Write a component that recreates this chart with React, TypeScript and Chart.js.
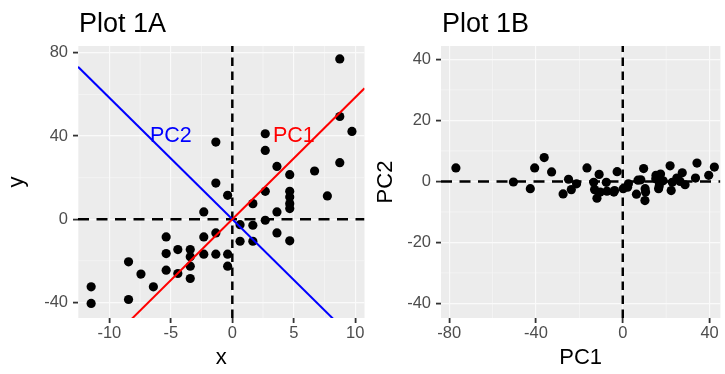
import React, { useEffect, useRef } from 'react';
import { Chart, registerables } from 'chart.js';

Chart.register(...registerables);

const FONT = '"Liberation Sans", Arial, Helvetica, sans-serif';

// ---------- Plot 1A : raw data ----------
const xValues = [
  8.74, 8.74, 9.73, 8.74, 6.69, 7.73, 2.68, 2.68, 3.63, 4.67,
  2.68, 4.67, 4.67, 4.67, 4.67, 1.67, 3.63, 2.68, 1.67, 0.63,
  0.63, 1.67, 3.63, 4.67, -1.34, -1.34, -0.38, -2.32, -2.32, -1.34,
  -2.32, -1.34, -0.38, -0.38, -5.38, -5.38, -4.43, -3.42, -3.42, -3.42,
  -3.42, -5.38, -4.43, -8.44, -7.43, -6.42, -8.44, -11.48, -11.48,
];
const yValues = [
  77.1, 49.4, 42.2, 27.2, 23.2, 11.2, 41.1, 33.1, 25.4, 21.4,
  13.4, 13.4, 10.7, 7.5, 5.1, 7.5, 3.5, -0.5, -2.9, -2.6,
  -10.6, -10.6, -6.6, -10.4, 37.1, 17.4, 11.5, 3.5, -8.5, -6.6,
  -16.8, -16.8, -16.8, -22.6, -8.5, -16.5, -14.6, -14.6, -18.1, -22.6,
  -28.5, -24.5, -26.1, -20.5, -26.4, -32.5, -38.6, -32.5, -40.5,
];

// ---------- Plot 1B : PC scores ----------
const pc1Scores = [
  -76.9, -50.4, -42.6, -27.5, -23.7, -11.9, -40.6, -32.8, -25.0, -21.3,
  -13.4, -13.0, -10.4, -7.3, -4.1, -7.6, -3.8, 0.2, 2.2, 2.6,
  10.3, 10.5, 6.3, 10.2, -36.2, -16.5, -10.9, -2.6, 8.3, 7.0,
  16.8, 16.8, 16.5, 22.3, 9.6, 17.4, 15.3, 15.2, 18.6, 22.8,
  28.7, 24.9, 26.4, 21.8, 27.4, 33.5, 39.6, 34.2, 42.2,
];
const pc2Scores = [
  4.4, -0.2, -2.4, -4.1, -2.7, -5.5, 4.4, 3.1, 0.7, -0.8,
  -0.3, -2.7, -3.5, -3.2, -3.5, -0.3, -3.0, -2.4, -1.9, -0.8,
  -2.4, -3.5, -4.2, -6.3, 7.8, 4.4, 2.3, 3.2, 0.5, 0.4,
  -0.4, -1.5, -2.4, -3.0, 4.2, 2.4, 2.0, 0.9, 0.2, -0.3,
  -1.1, 1.1, 0.0, 5.1, 2.8, 1.1, 2.0, 6.0, 4.7,
];

// ---------- Axes ----------
const aXTicks = [-10, -5, 0, 5, 10];
const aYTicks = [-40, 0, 40, 80];
const aXMinor = [-12.5, -7.5, -2.5, 2.5, 7.5];
const aYMinor = [-20, 20, 60];
const aXLimits = [-12.55, 10.75];
const aYLimits = [-47.5, 83.3];

const bXTicks = [-80, -40, 0, 40];
const bYTicks = [-40, -20, 0, 20, 40];
const bXMinor = [-60, -20, 20];
const bYMinor = [-30, -10, 10, 30];
const bXLimits = [-83.76, 44.98];
const bYLimits = [-44.8, 44.4];

// ---------- Principal component lines (Plot 1A) ----------
const pcNames = ['PC1', 'PC2'];
const pcSlopes = [5.86, -5.84];
const pcColors = ['#ff0000', '#0000ff'];
const pcLabelX = [5, -5];
const pcLabelY = [40, 40];

type PanelOpts = {
  title: string;
  minorX: number[];
  minorY: number[];
  labels?: { text: string; x: number; y: number; color: string }[];
};

function panelPlugin(o: PanelOpts) {
  return {
    id: 'panel',
    beforeDraw(chart: any) {
      const { ctx, chartArea: a, scales } = chart;
      ctx.save();
      ctx.fillStyle = '#ececec';
      ctx.fillRect(a.left, a.top, a.right - a.left, a.bottom - a.top);
      ctx.strokeStyle = '#f8f8f8';
      ctx.lineWidth = 0.6;
      for (const v of o.minorX) {
        const p = scales.x.getPixelForValue(v);
        if (p < a.left || p > a.right) continue;
        ctx.beginPath();
        ctx.moveTo(p, a.top);
        ctx.lineTo(p, a.bottom);
        ctx.stroke();
      }
      for (const v of o.minorY) {
        const p = scales.y.getPixelForValue(v);
        if (p < a.top || p > a.bottom) continue;
        ctx.beginPath();
        ctx.moveTo(a.left, p);
        ctx.lineTo(a.right, p);
        ctx.stroke();
      }
      ctx.restore();
    },
    afterDraw(chart: any) {
      const { ctx, chartArea: a, scales } = chart;
      ctx.save();
      ctx.fillStyle = '#000';
      ctx.font = `27px ${FONT}`;
      ctx.textAlign = 'left';
      ctx.textBaseline = 'alphabetic';
      ctx.fillText(o.title, a.left + 1, 32);
      if (o.labels) {
        ctx.font = `21.5px ${FONT}`;
        ctx.textAlign = 'center';
        ctx.textBaseline = 'middle';
        for (const l of o.labels) {
          ctx.fillStyle = l.color;
          ctx.fillText(l.text, scales.x.getPixelForValue(l.x), scales.y.getPixelForValue(l.y));
        }
      }
      ctx.restore();
    },
  };
}

function axis(limits: number[], ticks: number[], title: string, titlePad: any, size: number, isX: boolean, tickPad: number) {
  return {
    type: 'linear',
    min: limits[0],
    max: limits[1],
    afterBuildTicks: (s: any) => {
      s.ticks = ticks.map((v) => ({ value: v }));
    },
    afterFit: (s: any) => {
      if (isX) s.height = size;
      else s.width = size;
    },
    grid: {
      color: '#fafafa',
      lineWidth: 1.2,
      drawTicks: true,
      tickLength: 5,
      tickColor: '#333333',
      tickWidth: 1.8,
    },
    border: { display: false },
    ticks: {
      color: '#4d4d4d',
      font: { family: FONT, size: 16.5 },
      padding: tickPad,
      autoSkip: false,
      maxRotation: 0,
      minRotation: 0,
    },
    title: {
      display: true,
      text: title,
      color: '#000',
      font: { family: FONT, size: 22 },
      padding: titlePad,
    },
  };
}

function refLines(xl: number[], yl: number[]) {
  return [
    {
      data: [{ x: 0, y: yl[0] }, { x: 0, y: yl[1] }],
      showLine: true,
      borderColor: '#000',
      borderWidth: 2.5,
      borderDash: [8.5, 5.5],
      pointRadius: 0,
    },
    {
      data: [{ x: xl[0], y: 0 }, { x: xl[1], y: 0 }],
      showLine: true,
      borderColor: '#000',
      borderWidth: 2.5,
      borderDash: [11, 7.5],
      pointRadius: 0,
    },
  ];
}

function pointSet(xs: number[], ys: number[]) {
  return {
    data: xs.map((x, i) => ({ x, y: ys[i] })),
    showLine: false,
    pointRadius: 4.6,
    pointBackgroundColor: '#000',
    pointBorderWidth: 0,
    pointBorderColor: '#000',
  };
}

function buildA(): any {
  const pcLines = pcSlopes.map((m, i) => ({
    data: [
      { x: aXLimits[0], y: m * aXLimits[0] },
      { x: aXLimits[1], y: m * aXLimits[1] },
    ],
    showLine: true,
    borderColor: pcColors[i],
    borderWidth: 2,
    pointRadius: 0,
  }));
  return {
    type: 'scatter',
    data: { datasets: [...pcLines, ...refLines(aXLimits, aYLimits), pointSet(xValues, yValues)] },
    options: {
      responsive: false,
      animation: false,
      devicePixelRatio: 1,
      events: [],
      layout: { padding: { top: 46, right: 5.5, bottom: 0, left: 0 } },
      plugins: { legend: { display: false }, tooltip: { enabled: false }, title: { display: false } },
      scales: {
        x: axis(aXLimits, aXTicks, 'x', { top: 0, bottom: 3 }, 56, true, 1),
        y: axis(aYLimits, aYTicks, 'y', { top: 4, bottom: 0 }, 78, false, 5),
      },
    },
    plugins: [
      panelPlugin({
        title: 'Plot 1A',
        minorX: aXMinor,
        minorY: aYMinor,
        labels: pcNames.map((t, i) => ({ text: t, x: pcLabelX[i], y: pcLabelY[i], color: pcColors[i] })),
      }),
    ],
  };
}

function buildB(): any {
  return {
    type: 'scatter',
    data: { datasets: [...refLines(bXLimits, bYLimits), pointSet(pc1Scores, pc2Scores)] },
    options: {
      responsive: false,
      animation: false,
      devicePixelRatio: 1,
      events: [],
      layout: { padding: { top: 46, right: 0, bottom: 0, left: 0 } },
      plugins: { legend: { display: false }, tooltip: { enabled: false }, title: { display: false } },
      scales: {
        x: axis(bXLimits, bXTicks, 'PC1', { top: 0, bottom: 3 }, 56, true, 1),
        y: axis(bYLimits, bYTicks, 'PC2', { top: 3, bottom: 0 }, 71, false, 5),
      },
    },
    plugins: [panelPlugin({ title: 'Plot 1B', minorX: bXMinor, minorY: bYMinor })],
  };
}

function Panel({ left, width, build }: { left: number; width: number; build: () => any }) {
  const ref = useRef<HTMLCanvasElement>(null);
  useEffect(() => {
    const chart = new Chart(ref.current as HTMLCanvasElement, build());
    return () => chart.destroy();
  }, []);
  return (
    <canvas
      ref={ref}
      width={width}
      height={374}
      style={{ position: 'absolute', left, top: 0, width, height: 374 }}
    />
  );
}

export default function App() {
  return (
    <div
      style={{
        position: 'fixed',
        left: 0,
        top: 0,
        width: 725,
        height: 374,
        background: '#ffffff',
        overflow: 'hidden',
      }}
    >
      <Panel left={0} width={370} build={buildA} />
      <Panel left={370} width={355} build={buildB} />
    </div>
  );
}
